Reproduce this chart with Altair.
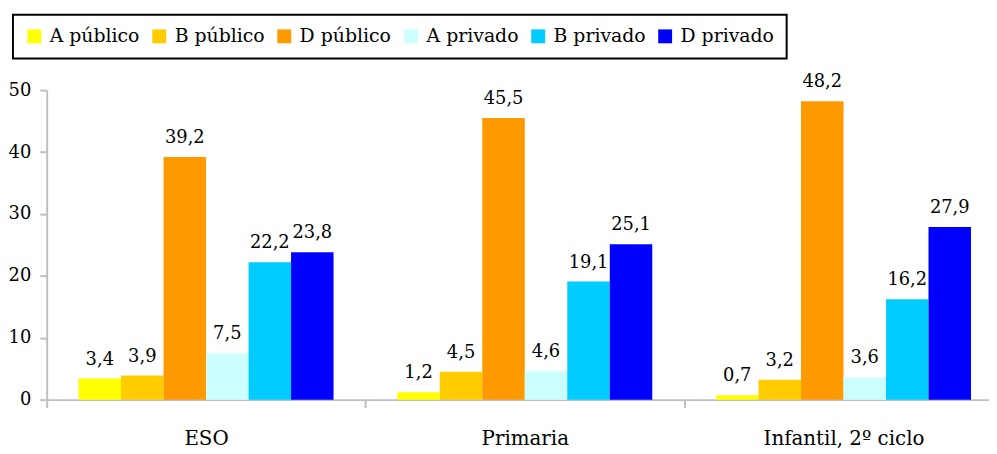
import altair as alt
import pandas as pd

categories = ["ESO", "Primaria", "Infantil, 2º ciclo"]
series = ["A público", "B público", "D público", "A privado", "B privado", "D privado"]
colors = ["#FFFF00", "#FFCC00", "#FF9900", "#CCFFFF", "#00CCFF", "#0000FF"]
values = {
    "ESO": [3.4, 3.9, 39.2, 7.5, 22.2, 23.8],
    "Primaria": [1.2, 4.5, 45.5, 4.6, 19.1, 25.1],
    "Infantil, 2º ciclo": [0.7, 3.2, 48.2, 3.6, 16.2, 27.9],
}
y_ticks = [0, 10, 20, 30, 40, 50]

rows = []
for c in categories:
    for s, v in zip(series, values[c]):
        rows.append({"cat": c, "serie": s, "val": v, "lab": f"{v:.1f}".replace(".", ",")})
df = pd.DataFrame(rows)

FONT = "DejaVu Serif"
AX = "#BFBFBF"

x = alt.X("cat:N", sort=categories, title=None,
          scale=alt.Scale(range=[0, 964], paddingInner=0, paddingOuter=0),
          axis=alt.Axis(labelAngle=0, labelFont=FONT, labelFontSize=20, labelColor="black",
                        labelPadding=21, tickBand="extent", tickSize=8, tickWidth=2,
                        tickColor=AX, domainColor=AX, domainWidth=2))
xo = alt.XOffset("serie:N", sort=series,
                 scale=alt.Scale(paddingInner=0, paddingOuter=0.75))
y = alt.Y("val:Q", title=None,
          scale=alt.Scale(domain=[0, 50], nice=False),
          axis=alt.Axis(values=y_ticks, labelFont=FONT, labelFontSize=18, labelColor="black",
                        labelPadding=9, tickSize=7, tickWidth=2, tickColor=AX,
                        domainColor=AX, domainWidth=2, grid=False))

bars = alt.Chart(df).mark_bar(stroke=None).encode(
    x=x, xOffset=xo, y=y,
    color=alt.Color("serie:N", sort=series,
                    scale=alt.Scale(domain=series, range=colors),
                    legend=alt.Legend(title=None, orient="none", direction="horizontal",
                                      legendX=-34, legendY=-76,
                                      symbolType="square", symbolSize=196,
                                      symbolStrokeWidth=0, labelFont=FONT,
                                      labelFontSize=19, labelColor="black",
                                      labelOffset=6, columnPadding=10,
                                      padding=12, strokeColor="black")),
)

labels = alt.Chart(df).mark_text(font=FONT, fontSize=18, baseline="bottom", dy=-10,
                                 color="black").encode(
    x=x, xOffset=xo, y=y, text="lab:N"
)

chart = alt.layer(bars, labels).properties(
    width=950, height=312,
    autosize=alt.AutoSizeParams(type="none"),
    padding={"left": 39, "top": 81, "right": 0, "bottom": 54},
).configure(font=FONT).configure_view(stroke=None).configure_legend(strokeWidth=2)

chart.save("out.html", embed_options={"renderer": "svg", "actions": False})
